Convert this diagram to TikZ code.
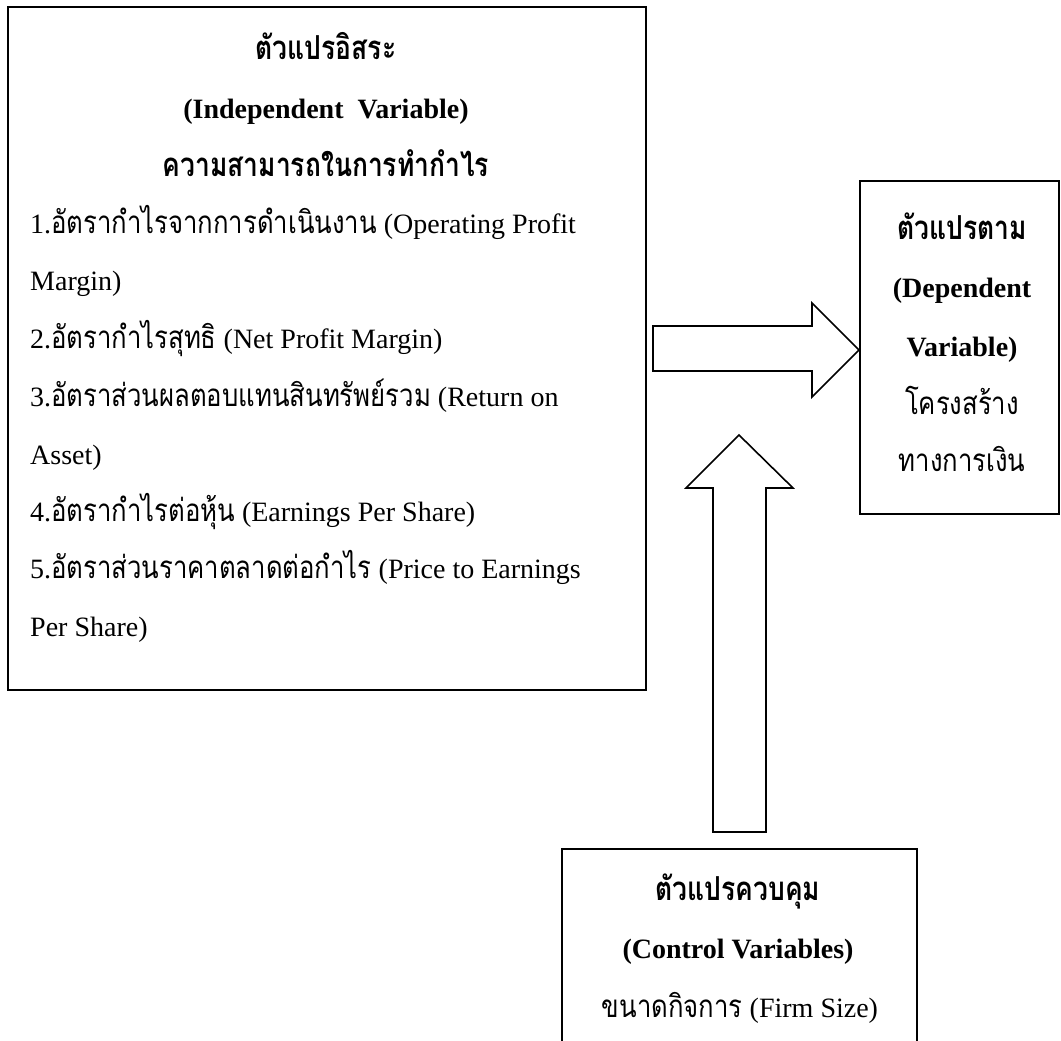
\documentclass[tikz,border=0pt]{standalone}
\usepackage{fontspec}
\setmainfont{Liberation Serif}
\newfontfamily\thaifont[Script=Thai,Scale=1.12,FakeStretch=0.82]{Loma}
\newfontfamily\thaibold[Script=Thai,Scale=1.18,FakeStretch=0.8]{Loma Bold}
\newcommand\T[1]{{\thaifont #1}}
\newcommand\TB[1]{{\thaibold #1}}
\begin{document}
\begin{tikzpicture}[x=1pt,y=-1pt,
  box/.style={draw, line width=1.6pt, inner sep=0pt, anchor=north west},
  blockarrow/.style={draw, line width=1.6pt, line join=miter, fill=white},
  txt/.style={inner sep=0pt, font=\fontsize{28}{30}\selectfont},
  lt/.style={txt, anchor=base west},
  ct/.style={txt, anchor=base},
  hd/.style={ct, font=\fontsize{28}{30}\selectfont\bfseries}]
\useasboundingbox (0,0) rectangle (1061,1041);
\fill[white] (0,0) rectangle (1061,1041);
% boxes
\node[box, minimum width=638pt, minimum height=683pt] (indep) at (7,6) {};
\node[box, minimum width=199pt, minimum height=333pt] (dep) at (859,180) {};
\node[box, minimum width=355pt, minimum height=220pt] (ctrl) at (561,848) {};
% left box text
\node[hd] (i1) at (326,60) {\TB{ตัวแปรอิสระ}};
\node[hd] (i2) at (326,118) {(Independent\ \ Variable)};
\node[hd] (i3) at (326,176) {\TB{ความสามารถในการทำกำไร}};
\node[lt] (l1) at (30,233) {1.\T{อัตรากำไรจากการดำเนินงาน} (Operating Profit};
\node[lt] (l2) at (30,290) {Margin)};
\node[lt] (l3) at (30,348) {2.\T{อัตรากำไรสุทธิ} (Net Profit Margin)};
\node[lt] (l4) at (30,406) {3.\T{อัตราส่วนผลตอบแทนสินทรัพย์รวม} (Return on};
\node[lt] (l5) at (30,464) {Asset)};
\node[lt] (l6) at (30,521) {4.\T{อัตรากำไรต่อหุ้น} (Earnings Per Share)};
\node[lt] (l7) at (30,578) {5.\T{อัตราส่วนราคาตลาดต่อกำไร} (Price to Earnings};
\node[lt] (l8) at (30,636) {Per Share)};
% right box text
\node[hd] (d1) at (962,239) {\TB{ตัวแปรตาม}};
\node[hd] (d2) at (962,297) {(Dependent};
\node[hd] (d3) at (962,356) {Variable)};
\node[ct] (d4) at (962,414) {\T{โครงสร้าง}};
\node[ct] (d5) at (962,471) {\T{ทางการเงิน}};
% bottom box text
\node[hd] (c1) at (738,900) {\TB{ตัวแปรควบคุม}};
\node[hd] (c2) at (738,958) {(Control Variables)};
\node[ct] (c3) at (740,1017) {\T{ขนาดกิจการ} (Firm Size)};
% block arrows
\coordinate (htip) at (dep.west |- 0,350);
\draw[blockarrow] (653,326) -- (812,326) -- (812,303) -- (htip) -- (812,397) -- (812,371) -- (653,371) -- cycle;
\coordinate (vtip) at (739,435);
\draw[blockarrow] (713,832) -- (713,488) -- (686,488) -- (vtip) -- (793,488) -- (766,488) -- (766,832) -- cycle;
\end{tikzpicture}
\end{document}
